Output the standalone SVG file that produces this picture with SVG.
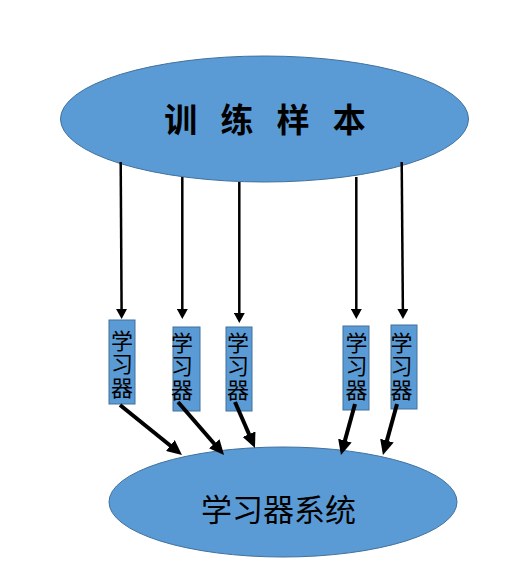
<svg xmlns="http://www.w3.org/2000/svg" width="526" height="561" viewBox="0 0 526 561">
<style>
.shape{fill:#5B9BD5;stroke:#41719C;stroke-width:1}
.thin{stroke:#000;stroke-width:2.5;fill:none;marker-end:url(#ah)}
.thick{stroke:#000;stroke-width:4;fill:none;marker-end:url(#ahb)}
.lbl{font-family:"Noto Sans CJK SC","Liberation Sans",sans-serif;font-size:22px;fill:#000;writing-mode:vertical-rl;letter-spacing:1.5px}
</style>
<defs>
<marker id="ah" markerUnits="userSpaceOnUse" markerWidth="10" markerHeight="11" refX="3" refY="5.5" orient="auto" viewBox="0 0 10 11">
<path d="M0,0 L10,5.5 L0,11 z" fill="#000"/>
</marker>
<marker id="ahb" markerUnits="userSpaceOnUse" markerWidth="15" markerHeight="14" refX="5" refY="7" orient="auto" viewBox="0 0 15 14">
<path d="M0,0 L15,7 L0,14 z" fill="#000"/>
</marker>
</defs>
<rect width="526" height="561" fill="#fff"/>
<g id="training">
<ellipse class="shape" cx="264.5" cy="119" rx="204" ry="63"/>
<text x="265" y="132" text-anchor="middle" font-family="Noto Sans CJK SC, sans-serif" font-weight="bold" font-size="33" word-spacing="15.6" xml:space="preserve">训 练 样 本</text>
</g>
<g id="learner1">
<rect class="shape" x="109" y="320" width="26" height="84"/>
<text class="lbl" x="122" y="329.5">学习器</text>
</g>
<g id="learner2">
<rect class="shape" x="173" y="327" width="27" height="84"/>
<text class="lbl" x="182" y="331.5">学习器</text>
</g>
<g id="learner3">
<rect class="shape" x="226" y="327" width="26" height="84"/>
<text class="lbl" x="238" y="331.5">学习器</text>
</g>
<g id="learner4">
<rect class="shape" x="343" y="326" width="26" height="84"/>
<text class="lbl" x="356.5" y="331.5">学习器</text>
</g>
<g id="learner5">
<rect class="shape" x="391" y="325" width="26" height="84"/>
<text class="lbl" x="401.5" y="331.5">学习器</text>
</g>
<g id="system">
<ellipse class="shape" cx="283" cy="502" rx="174" ry="55"/>
<text x="278.5" y="521" text-anchor="middle" font-family="Noto Sans CJK SC, sans-serif" font-size="31">学习器系统</text>
</g>
<g id="connectors">
<line class="thin" x1="120.7" y1="162" x2="121.6" y2="312"/>
<line class="thin" x1="182.3" y1="177" x2="182.3" y2="312"/>
<line class="thin" x1="239.3" y1="182" x2="239.3" y2="316"/>
<line class="thin" x1="356.3" y1="177" x2="356.3" y2="312"/>
<line class="thin" x1="401.7" y1="162" x2="402.9" y2="312"/>
<line class="thick" x1="120" y1="405" x2="174.2" y2="448.7"/>
<line class="thick" x1="178" y1="402" x2="217.5" y2="447.5"/>
<line class="thick" x1="235" y1="402" x2="251" y2="438.8"/>
<line class="thick" x1="355" y1="404" x2="343.6" y2="445.4"/>
<line class="thick" x1="397" y1="404" x2="385.6" y2="445.4"/>
</g>
</svg>
